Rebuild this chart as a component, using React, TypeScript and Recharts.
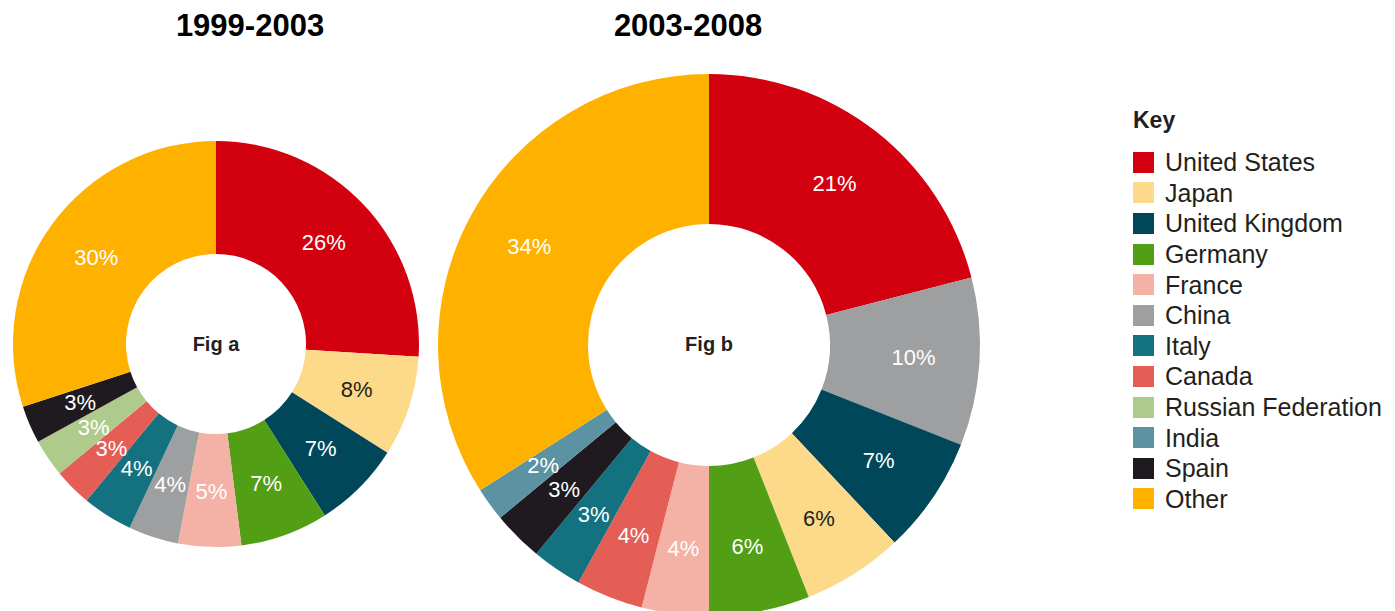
import { Legend, Pie, PieChart, Cell } from 'recharts';

const countryColors: Record<string, string> = {
  'United States': '#d3000f',
  Japan: '#fdd98a',
  'United Kingdom': '#00475a',
  Germany: '#529e14',
  France: '#f4b2a6',
  China: '#9d9fa1',
  Italy: '#14717f',
  Canada: '#e45e55',
  'Russian Federation': '#aecb8c',
  India: '#5b93a2',
  Spain: '#1e1a1f',
  Other: '#ffb100',
};

const keyOrder = [
  'United States',
  'Japan',
  'United Kingdom',
  'Germany',
  'France',
  'China',
  'Italy',
  'Canada',
  'Russian Federation',
  'India',
  'Spain',
  'Other',
];

// 1999-2003
const figACountries = [
  'United States',
  'Japan',
  'United Kingdom',
  'Germany',
  'France',
  'China',
  'Italy',
  'Canada',
  'Russian Federation',
  'Spain',
  'Other',
];
const figAShares = [26, 8, 7, 7, 5, 4, 4, 3, 3, 3, 30];

// 2003-2008
const figBCountries = [
  'United States',
  'China',
  'United Kingdom',
  'Japan',
  'Germany',
  'France',
  'Canada',
  'Italy',
  'Spain',
  'India',
  'Other',
];
const figBShares = [21, 10, 7, 6, 6, 4, 4, 3, 3, 2, 34];

const figAData = figACountries.map((name, i) => ({ name, share: figAShares[i] }));
const figBData = figBCountries.map((name, i) => ({ name, share: figBShares[i] }));

const RADIAN = Math.PI / 180;
const FONT = '"Liberation Sans", Arial, Helvetica, sans-serif';
const TEXT = '#231f20';

const makeLabel = (labelRadius: number) => (props: any) => {
  const { cx, cy, midAngle, value, name } = props;
  const x = cx + labelRadius * Math.cos(-midAngle * RADIAN);
  const y = cy + labelRadius * Math.sin(-midAngle * RADIAN);
  return (
    <text
      x={x}
      y={y}
      fill={name === 'Japan' ? TEXT : '#ffffff'}
      textAnchor="middle"
      dominantBaseline="central"
      fontFamily={FONT}
      fontSize={22}
    >
      {`${value}%`}
    </text>
  );
};

const KeyLegend = () => (
  <div style={{ fontFamily: FONT, color: TEXT }}>
    <div style={{ fontWeight: 'bold', fontSize: 23, height: 32, lineHeight: '32px' }}>Key</div>
    <div style={{ marginTop: 11 }}>
      {keyOrder.map((name) => (
        <div key={name} style={{ display: 'flex', alignItems: 'center', height: 30.6 }}>
          <span
            style={{
              display: 'inline-block',
              width: 21,
              height: 21,
              background: countryColors[name],
              marginRight: 11,
            }}
          />
          <span style={{ fontSize: 25, lineHeight: '30px', whiteSpace: 'nowrap' }}>{name}</span>
        </div>
      ))}
    </div>
  </div>
);

const App = () => {
  return (
    <div style={{ position: 'absolute', left: 0, top: 0, width: 1395, height: 611, background: '#fff' }}>
      <PieChart width={1395} height={611} margin={{ top: 0, right: 0, bottom: 0, left: 0 }}>
        <text x={250} y={25} textAnchor="middle" dominantBaseline="central" fontFamily={FONT} fontWeight="bold" fontSize={31} fill="#000">
          1999-2003
        </text>
        <text x={688} y={25} textAnchor="middle" dominantBaseline="central" fontFamily={FONT} fontWeight="bold" fontSize={31} fill="#000">
          2003-2008
        </text>
        <Pie
          data={figAData}
          dataKey="share"
          nameKey="name"
          cx={216}
          cy={344}
          innerRadius={90}
          outerRadius={203}
          startAngle={90}
          endAngle={-270}
          stroke="none"
          label={makeLabel(148)}
          labelLine={false}
          isAnimationActive={false}
        >
          {figAData.map((d) => (
            <Cell key={d.name} fill={countryColors[d.name]} />
          ))}
        </Pie>
        <Pie
          data={figBData}
          dataKey="share"
          nameKey="name"
          cx={709}
          cy={345}
          innerRadius={121}
          outerRadius={271}
          startAngle={90}
          endAngle={-270}
          stroke="none"
          label={makeLabel(205)}
          labelLine={false}
          isAnimationActive={false}
        >
          {figBData.map((d) => (
            <Cell key={d.name} fill={countryColors[d.name]} />
          ))}
        </Pie>
        <text x={216} y={344} textAnchor="middle" dominantBaseline="central" fontFamily={FONT} fontWeight="bold" fontSize={20} fill={TEXT}>
          Fig a
        </text>
        <text x={709} y={344} textAnchor="middle" dominantBaseline="central" fontFamily={FONT} fontWeight="bold" fontSize={20} fill={TEXT}>
          Fig b
        </text>
        <Legend
          layout="vertical"
          align="right"
          verticalAlign="top"
          content={() => <KeyLegend />}
          wrapperStyle={{ position: 'absolute', left: 1133, top: 104, width: 262 }}
        />
      </PieChart>
    </div>
  );
};

export default App;
